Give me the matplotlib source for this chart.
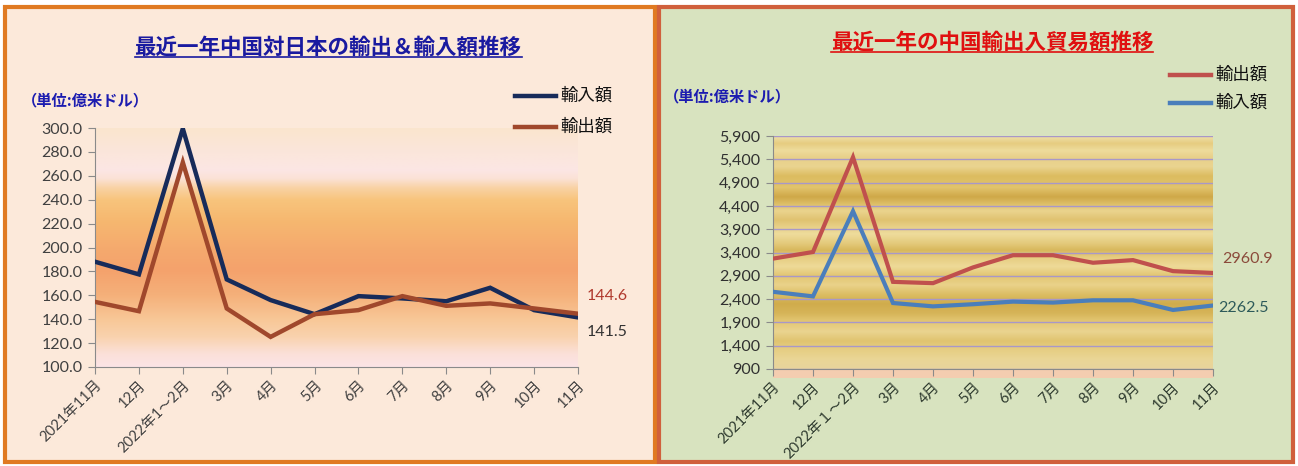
import matplotlib
matplotlib.use('Agg')
import matplotlib.pyplot as plt
import numpy as np
from matplotlib.patches import Rectangle
from matplotlib.colors import LinearSegmentedColormap
from matplotlib.lines import Line2D

plt.rcParams['font.family'] = ['Noto Sans CJK JP', 'DejaVu Sans']

# ---------------- data ----------------
months_left = ['2021年11月', '12月', '2022年1～2月', '3月', '4月', '5月',
               '6月', '7月', '8月', '9月', '10月', '11月']
months_right = ['2021年11月', '12月', '2022年１～2月', '3月', '4月', '5月',
                '6月', '7月', '8月', '9月', '10月', '11月']
jp_imports = [188.1, 177.5, 299.5, 173.3, 156.0, 144.2, 159.3, 157.4, 155.0, 166.3, 147.6, 141.5]
jp_exports = [154.5, 146.7, 271.2, 149.0, 125.2, 144.2, 147.6, 159.3, 151.2, 153.2, 149.0, 144.6]
cn_exports = [3269, 3411, 5445, 2770, 2742, 3080, 3342, 3342, 3180, 3237, 3000, 2960.9]
cn_imports = [2557, 2458, 4286, 2316, 2244, 2290, 2346, 2325, 2374, 2374, 2167, 2262.5]
left_yticks = [100, 120, 140, 160, 180, 200, 220, 240, 260, 280, 300]
right_yticks = [900, 1400, 1900, 2400, 2900, 3400, 3900, 4400, 4900, 5400, 5900]

W, H = 1298, 466
fig = plt.figure(figsize=(W / 100, H / 100), dpi=100)
fig.patch.set_facecolor('white')


def fx(x):
    return x / W


def fy(y):
    return 1 - y / H


# ---------------- panels ----------------
fig.add_artist(Rectangle((fx(5), fy(462)), 650 / W, 455 / H, transform=fig.transFigure,
                         facecolor='#FCE9DA', edgecolor='#E07A22', lw=3, zorder=-5))
fig.add_artist(Rectangle((fx(659), fy(462)), 634 / W, 455 / H, transform=fig.transFigure,
                         facecolor='#D8E3BF', edgecolor='#D0603C', lw=3, zorder=-5))
# salmon strip under right plot area
fig.add_artist(Rectangle((fx(773), fy(378)), 440 / W, 9 / H, transform=fig.transFigure,
                         facecolor='#F4CDB0', edgecolor='none', zorder=-4))

# ---------------- left chart ----------------
axL = fig.add_axes([fx(95), fy(367), 483 / W, 239 / H])
axL.set_facecolor('none')
stopsL = [(100, '#FCE4E6'), (111, '#FBE0D8'), (125, '#F9D2AE'), (139, '#F8C898'),
          (160, '#F5B07A'), (181, '#F4A26C'), (200, '#F5AA6E'), (223, '#F6B870'),
          (240, '#F8C47C'), (250, '#F9D2A4'), (258, '#FBE2D6'), (265, '#FCE6E4'),
          (279, '#FBE6DC'), (300, '#FAE5CE')]
cmapL = LinearSegmentedColormap.from_list(
    'gl', [((v - 100) / 200, c) for v, c in stopsL])
axL.imshow(np.linspace(0, 1, 512).reshape(-1, 1), extent=[0, 11, 100, 300],
           aspect='auto', cmap=cmapL, origin='lower', zorder=0)
x = np.arange(len(months_left))
axL.plot(x, jp_imports, color='#172B5A', lw=3.2, zorder=3, solid_joinstyle='miter')
axL.plot(x, jp_exports, color='#A0482C', lw=3.2, zorder=3, solid_joinstyle='miter')
axL.set_xlim(0, 11)
axL.set_ylim(100, 300)
axL.set_yticks(left_yticks)
axL.set_yticklabels([f'{v:.1f}' for v in left_yticks])
axL.set_xticks(x)
axL.set_xticklabels(months_left, rotation=45, ha='right', rotation_mode='anchor')
for s in ['top', 'right']:
    axL.spines[s].set_visible(False)
for s in ['left', 'bottom']:
    axL.spines[s].set_color('#8A8A8A')
axL.tick_params(axis='y', length=5, color='#8A8A8A', labelsize=11.5, labelcolor='#404040', pad=4)
axL.tick_params(axis='x', length=5, color='#8A8A8A', labelsize=10.5, labelcolor='#404040', pad=3)
for lab in axL.get_yticklabels() + axL.get_xticklabels():
    lab.set_fontfamily(['Lato', 'Noto Sans CJK JP'])
axL.text(11.2, 159.3, f'{jp_exports[-1]:.1f}', color='#B03A2E', fontsize=11.5,
         va='center', ha='left', clip_on=False, family=['Lato', 'DejaVu Sans'])
axL.text(11.2, 129.2, f'{jp_imports[-1]:.1f}', color='#333333', fontsize=11.5,
         va='center', ha='left', clip_on=False, family=['Lato', 'DejaVu Sans'])

# ---------------- right chart ----------------
axR = fig.add_axes([fx(773), fy(369), 440 / W, 233 / H])
axR.set_facecolor('none')
stopsR = [(900, '#E8D49C'), (1100, '#EAD696'), (1300, '#E6CE84'), (1500, '#E0C470'),
          (1700, '#EAD490'), (1900, '#E4C874'), (2100, '#D6B458'), (2300, '#D0AC4C'),
          (2500, '#DCBE64'), (2700, '#EAD28A'), (2900, '#E2C672'), (3100, '#EEDA98'),
          (3300, '#E6CC80'), (3450, '#D8B85C'), (3600, '#E4CA7C'), (3800, '#EEDC9C'),
          (3950, '#E8D088'), (4100, '#E0C270'), (4300, '#EAD48E'), (4450, '#DDBE66'),
          (4600, '#CFA848'), (4800, '#E2C46C'), (5050, '#DCBC60'), (5250, '#EAD490'),
          (5450, '#E8D08A'), (5600, '#EEDC9C'), (5750, '#E6CC80'), (5900, '#EFE0A8')]
cmapR = LinearSegmentedColormap.from_list(
    'gr', [((v - 900) / 5000, c) for v, c in stopsR])
axR.imshow(np.linspace(0, 1, 512).reshape(-1, 1), extent=[0, 11, 900, 5900],
           aspect='auto', cmap=cmapR, origin='lower', zorder=0)
axR.yaxis.grid(True, color='#A898C8', lw=1.0, zorder=1)
axR.plot(x, cn_exports, color='#C0504D', lw=3.0, zorder=3, solid_joinstyle='miter')
axR.plot(x, cn_imports, color='#4A7EBB', lw=3.0, zorder=3, solid_joinstyle='miter')
axR.set_xlim(0, 11)
axR.set_ylim(900, 5900)
axR.set_yticks(right_yticks)
axR.set_yticklabels([f'{v:,}' for v in right_yticks])
axR.set_xticks(x)
axR.set_xticklabels(months_right, rotation=45, ha='right', rotation_mode='anchor')
for s in ['top', 'right']:
    axR.spines[s].set_visible(False)
for s in ['left', 'bottom']:
    axR.spines[s].set_color('#8A8A8A')
axR.tick_params(axis='y', length=5, color='#8A8A8A', labelsize=11.5, labelcolor='#303030', pad=4)
axR.tick_params(axis='x', length=5, color='#8A8A8A', labelsize=10.5, labelcolor='#2E3A2E', pad=3)
for lab in axR.get_yticklabels() + axR.get_xticklabels():
    lab.set_fontfamily(['Lato', 'Noto Sans CJK JP'])
axR.text(11.22, 3250, f'{cn_exports[-1]:.1f}', color='#8B4A3A', fontsize=11.5,
         va='center', ha='left', clip_on=False, family=['Lato', 'DejaVu Sans'])
axR.text(11.12, 2203, f'{cn_imports[-1]:.1f}', color='#2D5A5A', fontsize=11.5,
         va='center', ha='left', clip_on=False, family=['Lato', 'DejaVu Sans'])

# ---------------- titles / labels / legends ----------------
tL = fig.text(fx(328), fy(47), '最近一年中国対日本の輸出＆輸入額推移', ha='center', va='center',
              color='#1A1AA0', fontsize=15.5, weight='bold')
tR = fig.text(fx(992), fy(42), '最近一年の中国輸出入貿易額推移', ha='center', va='center',
              color='#E01010', fontsize=15.5, weight='bold')
fig.text(fx(22), fy(100), '（単位:億米ドル）', ha='left', va='center', color='#1C1CB0',
         fontsize=11, weight='bold')
fig.text(fx(664), fy(96), '（単位:億米ドル）', ha='left', va='center', color='#1C1CB0',
         fontsize=11, weight='bold')


def legend_item(x0, x1, y, color, label):
    fig.add_artist(Line2D([fx(x0), fx(x1)], [fy(y), fy(y)], transform=fig.transFigure,
                          color=color, lw=3.2))
    fig.text(fx(x1 + 4), fy(y), label, ha='left', va='center', color='#111111', fontsize=12.5)


legend_item(515, 556, 96, '#172B5A', '輸入額')
legend_item(515, 556, 127, '#A0482C', '輸出額')
legend_item(1170, 1211, 75, '#C0504D', '輸出額')
legend_item(1170, 1211, 103, '#4A7EBB', '輸入額')

# underline titles
fig.canvas.draw()
inv = fig.transFigure.inverted()
for t, c in [(tL, '#1A1AA0'), (tR, '#E01010')]:
    bb = t.get_window_extent()
    (x0, y0), (x1, _) = inv.transform([(bb.x0, bb.y0 + 1), (bb.x1, bb.y0 + 1)])
    fig.add_artist(Line2D([x0, x1], [y0, y0], transform=fig.transFigure, color=c, lw=1.2))

fig.savefig('out.png', dpi=100)
